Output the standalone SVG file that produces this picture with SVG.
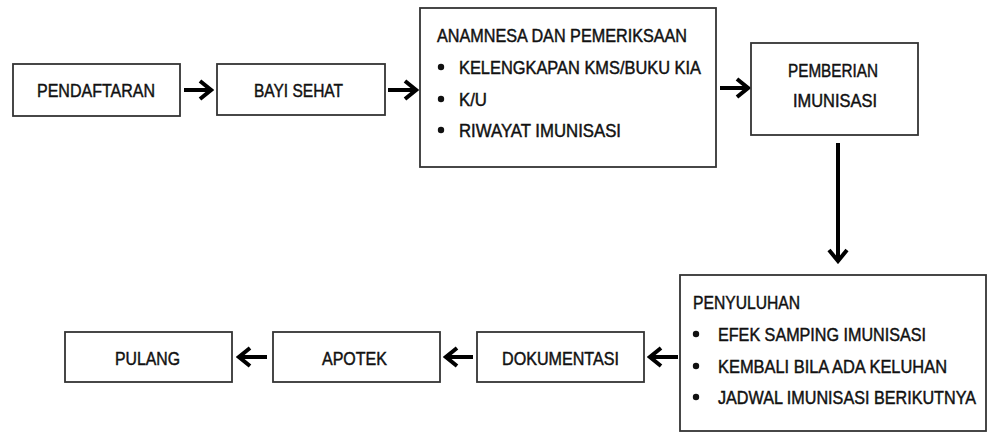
<svg xmlns="http://www.w3.org/2000/svg" width="988" height="433" viewBox="0 0 988 433">
<style>
.box{fill:#fff;stroke:#333;stroke-width:1.8}
.t{font-family:"Liberation Sans",Arial,sans-serif;font-size:18px;fill:#111;stroke:#111;stroke-width:0.45}
.bul{fill:#111}
.con{stroke:#000;stroke-width:4;fill:none}
</style>
<defs>
<marker id="ah" viewBox="-2 -12 16 24" refX="11" refY="0" markerWidth="16" markerHeight="24" markerUnits="userSpaceOnUse" orient="auto">
<path d="M0 -9 L11 0 L0 9" fill="none" stroke="#000" stroke-width="4" stroke-linejoin="miter"/>
</marker>
</defs>
<rect width="988" height="433" fill="#fff"/>
<g id="connectors">
<line class="con" x1="184" y1="90" x2="211" y2="90" marker-end="url(#ah)"/>
<line class="con" x1="388" y1="90" x2="416" y2="90" marker-end="url(#ah)"/>
<line class="con" x1="720" y1="88" x2="748" y2="88" marker-end="url(#ah)"/>
<line class="con" x1="838" y1="143" x2="838" y2="261" marker-end="url(#ah)"/>
<line class="con" x1="678" y1="357" x2="650" y2="357" marker-end="url(#ah)"/>
<line class="con" x1="473" y1="357" x2="446" y2="357" marker-end="url(#ah)"/>
<line class="con" x1="267" y1="357" x2="239" y2="357" marker-end="url(#ah)"/>
</g>
<g id="pendaftaran">
<rect class="box" x="13" y="64" width="167" height="52"/>
<text class="t" x="37" y="97" textLength="118" lengthAdjust="spacingAndGlyphs">PENDAFTARAN</text>
</g>
<g id="bayi-sehat">
<rect class="box" x="217" y="64" width="168" height="51"/>
<text class="t" x="254" y="97" textLength="89" lengthAdjust="spacingAndGlyphs">BAYI SEHAT</text>
</g>
<g id="anamnesa">
<rect class="box" x="420" y="8" width="296" height="159"/>
<text class="t" x="437" y="42" textLength="250" lengthAdjust="spacingAndGlyphs">ANAMNESA DAN PEMERIKSAAN</text>
<circle class="bul" cx="441" cy="67" r="3.2"/>
<text class="t" x="459" y="74" textLength="242" lengthAdjust="spacingAndGlyphs">KELENGKAPAN KMS/BUKU KIA</text>
<circle class="bul" cx="441" cy="99" r="3.2"/>
<text class="t" x="459" y="106" textLength="28" lengthAdjust="spacingAndGlyphs">K/U</text>
<circle class="bul" cx="441" cy="130" r="3.2"/>
<text class="t" x="459" y="137" textLength="162" lengthAdjust="spacingAndGlyphs">RIWAYAT IMUNISASI</text>
</g>
<g id="pemberian-imunisasi">
<rect class="box" x="751" y="43" width="167" height="92"/>
<text class="t" x="788" y="77" textLength="90" lengthAdjust="spacingAndGlyphs">PEMBERIAN</text>
<text class="t" x="793" y="107" textLength="84" lengthAdjust="spacingAndGlyphs">IMUNISASI</text>
</g>
<g id="penyuluhan">
<rect class="box" x="680" y="275" width="306" height="156"/>
<text class="t" x="693" y="309" textLength="107" lengthAdjust="spacingAndGlyphs">PENYULUHAN</text>
<circle class="bul" cx="696" cy="334" r="3.2"/>
<text class="t" x="718" y="341" textLength="208" lengthAdjust="spacingAndGlyphs">EFEK SAMPING IMUNISASI</text>
<circle class="bul" cx="696" cy="366" r="3.2"/>
<text class="t" x="718" y="373" textLength="229" lengthAdjust="spacingAndGlyphs">KEMBALI BILA ADA KELUHAN</text>
<circle class="bul" cx="696" cy="397" r="3.2"/>
<text class="t" transform="translate(718 404) scale(1 1.125)" x="0" y="0" style="font-size:16px;stroke-width:0.42" textLength="258" lengthAdjust="spacingAndGlyphs">JADWAL IMUNISASI BERIKUTNYA</text>
</g>
<g id="dokumentasi">
<rect class="box" x="477" y="332" width="167" height="50"/>
<text class="t" x="502" y="365" textLength="117" lengthAdjust="spacingAndGlyphs">DOKUMENTASI</text>
</g>
<g id="apotek">
<rect class="box" x="273" y="332" width="167" height="50"/>
<text class="t" x="322" y="365" textLength="65" lengthAdjust="spacingAndGlyphs">APOTEK</text>
</g>
<g id="pulang">
<rect class="box" x="65" y="332" width="167" height="50"/>
<text class="t" x="115" y="365" textLength="65" lengthAdjust="spacingAndGlyphs">PULANG</text>
</g>
</svg>
